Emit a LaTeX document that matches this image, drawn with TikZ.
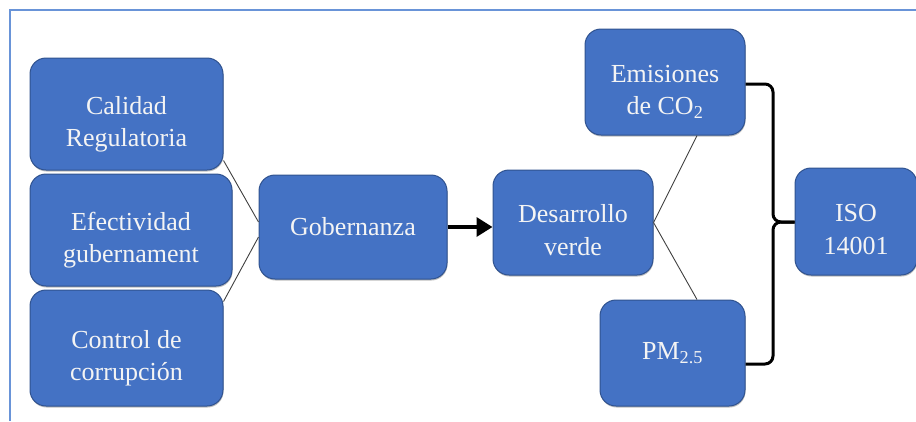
\documentclass[tikz,border=0pt]{standalone}
\usepackage{fontspec}
\setmainfont{Liberation Serif}
\usetikzlibrary{arrows.meta,shadows,calc}
\definecolor{boxfill}{HTML}{4472C4}
\definecolor{boxline}{HTML}{2F528F}
\definecolor{framecol}{RGB}{105,148,216}
\definecolor{linkcol}{HTML}{404040}
\definecolor{txtcol}{HTML}{F4F4F4}
\begin{document}
\begin{tikzpicture}[x=1pt,y=-1pt,
  box/.style={draw=boxline, line width=1pt, fill=boxfill, rounded corners=16pt,
    text=txtcol, align=center, font=\fontsize{26}{32.5}\selectfont, inner sep=0pt,
    drop shadow={shadow xshift=0.5pt, shadow yshift=-1.5pt, opacity=0.25, fill=black}},
  two/.style={text height=65pt, text depth=0pt},
  link/.style={draw=linkcol, line width=0.9pt},
  brace/.style={draw=black, line width=3pt, rounded corners=8pt, line join=round},
  arr/.style={draw=black, line width=3.5pt, -{Triangle[length=16pt,width=19pt]}},
  frame/.style={draw=framecol, line width=1.6pt}]
\useasboundingbox (0,0) rectangle (916,421);
% frame
\coordinate (fbl) at (10,421);
\coordinate (ftl) at (10,10);
\coordinate (ftr) at (916,10);
\draw[frame] (fbl) -- (ftl) -- (ftr);
% boxes
\node[box,two,minimum width=193pt,minimum height=112pt] (cal) at (126.5,114) {Calidad\\Regulatoria};
\node[box,two,minimum width=202pt,minimum height=112pt] (efe) at (131,230) {Efectividad\\gubernament};
\node[box,two,minimum width=193pt,minimum height=116pt] (con) at (126.5,348) {Control de\\corrupción};
\node[box,minimum width=188pt,minimum height=104pt] (gob) at (353,227) {Gobernanza};
\node[box,two,minimum width=160pt,minimum height=105pt] (des) at (573,222.5) {Desarrollo\\verde};
\node[box,two,minimum width=160pt,minimum height=106pt] (emi) at (665,82) {Emisiones\\de CO\textsubscript{2}};
\node[box,minimum width=145pt,minimum height=106pt] (pm) at (672.5,353) {PM\textsubscript{2.5}};
\node[box,two,minimum width=122pt,minimum height=107pt] (iso) at (856,221.5) {ISO\\14001};
% connectors
\draw[link] ([yshift=10pt]cal.south east) -- ([yshift=5pt]gob.west);
\draw[link] ([yshift=-12pt]con.north east) -- ([yshift=-10pt]gob.west);
\draw[arr] (gob.east) -- (gob.east -| des.west);
\draw[link] (des.east) -- ([xshift=32pt]emi.south);
\draw[link] (des.east) -- ([xshift=24.5pt]pm.north);
% brace
\coordinate (bx) at (773,222);
\draw[brace] ($(emi.east)+(0,2)$) -- ($(bx |- emi.east)+(0,2)$) -- (bx) -- (iso.west |- bx);
\draw[brace] ($(pm.east)+(0,11)$) -- ($(bx |- pm.east)+(0,11)$) -- (bx) -- (iso.west |- bx);
\end{tikzpicture}
\end{document}
